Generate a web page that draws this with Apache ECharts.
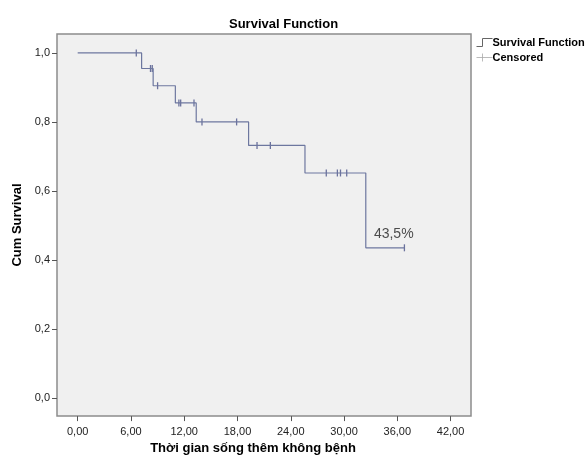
<!DOCTYPE html>
<html>
<head>
<meta charset="utf-8">
<script src="https://cdn.jsdelivr.net/npm/echarts@6/dist/echarts.min.js"></script>
<style>html,body{margin:0;padding:0;background:#fff;}#c{width:588px;height:460px;}</style>
</head>
<body>
<div id="c"></div>
<script>
// Step points of the survival function (time, cumulative survival)
var eventTimes = [0, 7.2, 8.5, 11.0, 13.35, 19.25, 25.6, 32.45, 36.8];
var survival   = [1.0, 0.955, 0.905, 0.855, 0.800, 0.732, 0.652, 0.435, 0.435];
// Censored observations
var censorTimes = [6.6, 8.2, 8.4, 9.0, 11.4, 11.6, 13.1, 14.0, 17.9, 20.2, 21.7, 28.0, 29.25, 29.6, 30.3, 36.8];
var censorSurv  = [1.0, 0.955, 0.955, 0.905, 0.855, 0.855, 0.855, 0.800, 0.800, 0.732, 0.732, 0.652, 0.652, 0.652, 0.652, 0.435];
var xTicks = [0, 6, 12, 18, 24, 30, 36, 42];
var yTicks = [0, 0.2, 0.4, 0.6, 0.8, 1.0];
var annotText = '43,5%';
var annotPos = [35.6, 0.474];

var stepData = eventTimes.map(function (t, i) { return [t, survival[i]]; });
var censorData = censorTimes.map(function (t, i) { return [t, censorSurv[i]]; });

var font = 'Liberation Sans, Arial, sans-serif';
var chart = echarts.init(document.getElementById('c'));
chart.setOption({
  animation: false,
  backgroundColor: '#ffffff',
  title: {
    text: 'Survival Function',
    left: 224, top: 13,
    textStyle: { fontFamily: font, fontSize: 13, fontWeight: 'bold', color: '#000' }
  },
  legend: {
    orient: 'vertical',
    left: 469, top: 31,
    itemWidth: 16, itemHeight: 8, itemGap: 2,
    textStyle: { fontFamily: font, fontSize: 11, fontWeight: 'bold', color: '#000', padding: [0, 0, 0, -5] },
    data: [
      { name: 'Survival Function', icon: 'path://M0,8L6,8L6,0L16,0', itemStyle: { color: 'none', borderColor: '#666', borderWidth: 1 } },
      { name: 'Censored', icon: 'path://M0,4L16,4M6,0L6,8', itemStyle: { color: 'none', borderColor: '#aaa', borderWidth: 1 } }
    ]
  },
  grid: {
    left: 57, top: 34, right: 117, bottom: 43,
    show: true, backgroundColor: '#f0f0f0', borderColor: '#8c8c8c', borderWidth: 1.5
  },
  xAxis: {
    type: 'value', min: -2.33, max: 44.3,
    name: 'Thời gian sống thêm không bệnh', nameLocation: 'middle', nameGap: 24,
    nameTextStyle: { fontFamily: font, fontSize: 13, fontWeight: 'bold', color: '#000', padding: [0, 22, 0, 0] },
    axisLine: { show: false, onZero: false },
    splitLine: { show: false },
    axisTick: { show: true, length: 5, inside: false, customValues: xTicks, lineStyle: { color: '#555' } },
    axisLabel: { margin: 10, customValues: xTicks, fontFamily: font, fontSize: 11, color: '#222',
      formatter: function (v) { return v.toFixed(2).replace('.', ','); } }
  },
  yAxis: {
    type: 'value', min: -0.053, max: 1.055,
    name: 'Cum Survival', nameLocation: 'middle', nameGap: 32, nameRotate: 90,
    nameTextStyle: { fontFamily: font, fontSize: 13, fontWeight: 'bold', color: '#000' },
    axisLine: { show: false, onZero: false },
    splitLine: { show: false },
    axisTick: { show: true, length: 5, inside: false, customValues: yTicks, lineStyle: { color: '#555' } },
    axisLabel: { margin: 7, customValues: yTicks, fontFamily: font, fontSize: 11, color: '#222',
      formatter: function (v) { return v.toFixed(1).replace('.', ','); } }
  },
  series: [
    {
      name: 'Survival Function', type: 'line', step: 'end',
      data: stepData, showSymbol: false, symbol: 'none',
      lineStyle: { color: '#6d779f', width: 1.2 },
      itemStyle: { color: '#6d779f' }
    },
    {
      name: 'Censored', type: 'scatter',
      data: censorData, symbol: 'rect', symbolSize: [1.3, 7],
      itemStyle: { color: '#4a5388' }
    },
    {
      name: 'annot', type: 'scatter', data: [annotPos], symbolSize: 0,
      silent: true,
      label: { show: true, position: 'inside', formatter: annotText, fontFamily: font, fontSize: 14, color: '#222' }
    }
  ]
});
</script>
</body>
</html>
